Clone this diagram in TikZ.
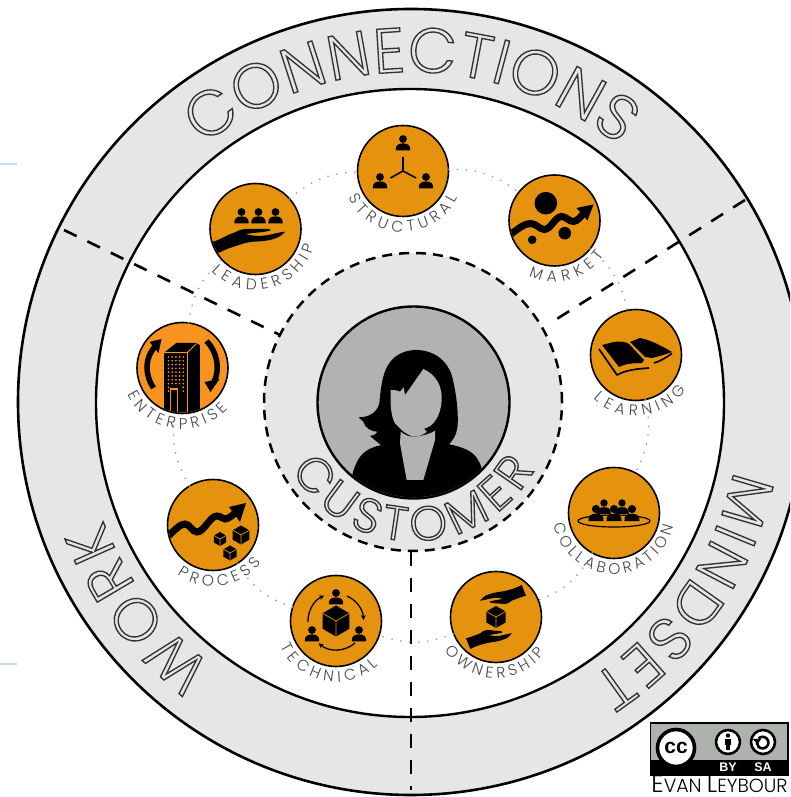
\documentclass[tikz,border=0pt]{standalone}
\usepackage{fontspec}
\usetikzlibrary{decorations.text,arrows.meta}
\newfontfamily\thinface{Poppins Light}
\newfontfamily\badgeface{Liberation Sans}
\definecolor{ringgrey}{HTML}{E6E6E6}
\definecolor{facegrey}{HTML}{B2B2B2}
\definecolor{iconorange}{HTML}{E5930F}
\definecolor{brightorange}{HTML}{F7931E}
\definecolor{labelgrey}{HTML}{4A4A4A}
\definecolor{dotgrey}{HTML}{A0A0A0}
\definecolor{edgeblue}{HTML}{C9DAF1}
\definecolor{badgegrey}{HTML}{ADB3AC}
\tikzset{
  disc/.style={circle,inner sep=0pt,outer sep=0pt},
  iconcircle/.style={disc,draw=black,line width=1.6pt,fill=iconorange,minimum size=91pt},
  zoneline/.style={draw=black,line width=2.6pt,dash pattern=on 14pt off 12pt},
  dotline/.style={draw=dotgrey,line width=1.9pt,line cap=round,dash pattern=on 0pt off 9pt},
  personfig/.pic={
    \fill (0,0) circle[radius=3.9];
    \fill (-7.2,-11.5) .. controls (-7.8,-6) and (-4,-4.4) .. (0,-4.4) .. controls (4,-4.4) and (7.8,-6) .. (7.2,-11.5) -- cycle;
  },
  boxfig/.pic={
    \fill (0,1) -- (.87,.5) -- (.87,-.5) -- (0,-1) -- (-.87,-.5) -- (-.87,.5) -- cycle;
    \draw[iconorange,line width=.7pt] (-.87,.5) -- (0,0) -- (.87,.5) (0,0) -- (0,-1);
  },
  handfig/.pic={
    \fill (-44,-12) -- (-42,-12.7) .. controls (-32,-9) and (-27,-5) .. (-20.3,-3.3)
      .. controls (-16,-1) and (-14,0) .. (-10.3,0) -- (13,0)
      .. controls (15,0) and (15.5,-1.2) .. (14.7,-1.7) .. controls (9,-3) and (3,-3.5) .. (-2,-4)
      -- (-10.3,-5) .. controls (-3,-7) and (3,-7) .. (8,-6.7)
      .. controls (15,-6) and (24,-3) .. (29.7,-2.7)
      .. controls (27,-6) and (23,-8.5) .. (18,-10)
      .. controls (12,-12) and (4,-12.5) .. (-2,-12.7)
      .. controls (-8,-13) and (-14,-15) .. (-18.7,-16.7)
      .. controls (-25,-19) and (-30,-20) .. (-35.3,-23.3) -- (-44,-25) -- cycle;
  },
  givinghand/.pic={
    \fill (-30,-21.3) .. controls (-25,-20) and (-20,-18) .. (-15.7,-16.3)
      .. controls (-13,-14) and (-11,-13) .. (-9,-13) -- (4.3,-14)
      .. controls (6,-14) and (6.5,-15) .. (6,-15.7) .. controls (2,-16.5) and (-3,-17.5) .. (-7.3,-18)
      .. controls (-4,-19.5) and (0,-19.2) .. (2.7,-19)
      .. controls (7,-18.5) and (12,-16.5) .. (16,-16.3)
      .. controls (13,-20) and (10,-22) .. (6,-23)
      .. controls (2,-24.5) and (-3,-25) .. (-7.3,-25.7)
      .. controls (-14,-27) and (-20,-29) .. (-25.7,-32) -- cycle;
  }
}
% centre, radius, start, end, size, word
\newcommand{\ringword}[6]{%
  \path[decorate,decoration={text along path,text align=fit to path,
    text={|\thinface\fontsize{#5}{#5}\selectfont\color{ringgrey}\special{pdf:code 2 Tr 1.35 w 0.2 0.2 0.2 RG}|#6}}]
    (#1) ++(#3:#2) arc[start angle=#3,end angle=#4,radius=#2];
}
\newcommand{\iconword}[4]{%
  \path[decorate,decoration={text along path,text align=fit to path,
    text={|\thinface\fontsize{15.5}{15.5}\selectfont\color{labelgrey}|#4}}]
    (#1.center) ++(#2:61) arc[start angle=#2,end angle=#3,radius=61];
}
\begin{document}
\begin{tikzpicture}[x=1pt,y=1pt]
\useasboundingbox (0,0) rectangle (790,797);
\clip (0,0) rectangle (790,797);
\fill[white] (0,0) rectangle (790,797);
% faint marks at the left edge
\fill[edgeblue] (0,632.3) rectangle (17,634);
\fill[edgeblue] (0,132.3) rectangle (17,134);
% rings
\node[disc,draw=black,line width=2.6pt,fill=ringgrey,minimum size=786pt] (ring) at (411,395) {};
\node[disc,draw=black,line width=2.4pt,fill=white,minimum size=628pt] (field) at (410,394) {};
% zone boundaries
\coordinate (zoneA) at (64,567);
\coordinate (zoneB) at (280,462);
\coordinate (zoneC) at (745,597);
\coordinate (zoneD) at (552,475);
\coordinate (zoneE) at (411,7);
\coordinate (zoneF) at (411,245);
\draw[zoneline] (zoneA) -- (zoneB);
\draw[zoneline] (zoneC) -- (zoneD);
\draw[zoneline] (zoneF) -- (zoneE);
% centre
\node[disc,fill=ringgrey,draw=black,line width=2.5pt,dash pattern=on 10pt off 7pt,minimum size=298pt] (core) at (413,395) {};
\node[disc,draw=black,line width=2.4pt,fill=facegrey,minimum size=192pt] (person) at (413.5,394.5) {};
\begin{scope}
\clip (person.center) circle[radius=94.8pt];
\begin{scope}[shift={(280,497)},x=.33333pt,y=-.33333pt]
\fill (305,435) .. controls (260,445) and (235,460) .. (218,520) -- (200,620) -- (620,620) -- (605,505)
  .. controls (590,455) and (560,445) .. (505,432) -- cycle;
\fill (400,150) .. controls (460,148) and (500,180) .. (515,225)
  .. controls (530,280) and (535,340) .. (533,375) .. controls (530,405) and (520,420) .. (505,435)
  -- (305,437) -- (270,408) .. controls (285,405) and (292,400) .. (292,395)
  .. controls (275,395) and (255,385) .. (250,365) .. controls (245,360) and (240,356) .. (235,352)
  .. controls (265,352) and (290,340) .. (298,310) .. controls (305,240) and (310,160) .. (400,150) -- cycle;
\fill[facegrey] (430,207) .. controls (410,235) and (390,265) .. (375,285) -- (371,262) -- (360,275)
  .. controls (350,270) and (340,270) .. (332,270) .. controls (330,310) and (333,350) .. (345,370)
  .. controls (360,385) and (370,400) .. (400,410) .. controls (420,410) and (435,402) .. (440,395)
  -- (432,386) .. controls (460,380) and (482,350) .. (485,300) .. controls (487,260) and (470,225) .. (430,207) -- cycle;
\fill[facegrey] (362,395) .. controls (375,405) and (385,410) .. (400,410) .. controls (420,410) and (450,402) .. (465,392)
  -- (465,420) -- (430,540) -- (380,540) -- (360,430) -- cycle;
\end{scope}
\end{scope}
% dotted ring and topic circles
\node[iconcircle] (structural) at (403,626) {};
\node[iconcircle] (market) at (554.5,576.5) {};
\node[iconcircle] (learning) at (636,442) {};
\node[iconcircle] (collaboration) at (614,284) {};
\node[iconcircle] (ownership) at (496,180) {};
\node[iconcircle] (technical) at (336,176) {};
\node[iconcircle] (process) at (213,272) {};
\node[iconcircle,fill=brightorange] (enterprise) at (182.5,429) {};
\node[iconcircle] (leadership) at (255.5,568) {};
\draw[dotline] (structural) to[bend left=20] (market);
\draw[dotline] (market) to[bend left=20] (learning);
\draw[dotline] (learning) to[bend left=20] (collaboration);
\draw[dotline] (collaboration) to[bend left=20] (ownership);
\draw[dotline] (ownership) to[bend left=20] (technical);
\draw[dotline] (technical) to[bend left=20] (process);
\draw[dotline] (process) to[bend left=20] (enterprise);
\draw[dotline] (enterprise) to[bend left=20] (leadership);
\draw[dotline] (leadership) to[bend left=20] (structural);
% structural
\begin{scope}[shift={(structural.center)}]
\pic at (0,32) {personfig};
\pic at (-23,-6) {personfig};
\pic at (23,-6) {personfig};
\draw[line width=1.6pt] (0,14) -- (0,0) (-12.5,-7) -- (0,0) -- (13,-7);
\end{scope}
% market
\begin{scope}[shift={(market.center)}]
\clip (0,0) circle[radius=44.5];
\fill (-8.7,17.3) circle[radius=11.3];
\fill (10.3,-12.7) circle[radius=6.3];
\fill (-22.3,-19.3) circle[radius=4.3];
\draw[line width=7pt] (-46,-15.5) .. controls (-36,-8) and (-30,-3) .. (-24,-3)
  .. controls (-18,-3) and (-15,-9) .. (-10,-9) .. controls (-4,-9) and (1,4) .. (7,4)
  .. controls (12,4) and (14,-1) .. (19,-1) .. controls (23,-1) and (27,5) .. (31,9);
\fill (39,16) -- (22,12.5) -- (33,0) -- cycle;
\end{scope}
% learning
\begin{scope}[shift={(learning.center)}]
\fill (-34,10) -- (-22,13) .. controls (-14,14) and (-10,13) .. (-7,11) -- (8,-5) -- (6,-8) .. controls (-3,-8) and (-12,-9) .. (-17,-12) -- cycle;
\fill (-6,13) -- (4,17) .. controls (14,15) and (24,10) .. (36,3) .. controls (28,0) and (20,-2) .. (16,-3) -- (9,-2) -- cycle;
\draw[line width=1.7pt,line join=round] (-37,6) -- (-19,-20) .. controls (-10,-15) and (0,-14) .. (13,-13);
\draw[line width=1.7pt] (18,-8) .. controls (25,-6) and (31,-2) .. (36,1.5);
\end{scope}
% collaboration
\begin{scope}[shift={(collaboration.center)}]
\draw[line width=1.2pt] (0,-8) ellipse[x radius=36,y radius=6];
\fill[iconorange] (-24,-8) rectangle (24,-3);
\pic[scale=.95] at (-10,10) {personfig};
\pic[scale=.95] at (8,10) {personfig};
\pic[scale=1.05] at (-18,4) {personfig};
\pic[scale=1.05] at (0,4) {personfig};
\pic[scale=1.05] at (18,4) {personfig};
\end{scope}
% ownership
\begin{scope}[shift={(ownership.center)}]
\pic at (0,0) {givinghand};
\pic[rotate=180] at (0,0) {givinghand};
\pic[scale=11] at (0,0) {boxfig};
\end{scope}
% technical
\begin{scope}[shift={(technical.center)}]
\pic[scale=15.5] at (0,0) {boxfig};
\pic at (0,28) {personfig};
\pic at (-24,-9) {personfig};
\pic at (23,-9) {personfig};
\draw[line width=1.3pt,-{Stealth[length=5pt,width=5pt]}] (-28,-1) arc[start angle=182,end angle=115,radius=28];
\draw[line width=1.3pt,-{Stealth[length=5pt,width=5pt]}] (11,25) arc[start angle=66,end angle=3,radius=28];
\draw[line width=1.3pt,-{Stealth[length=5pt,width=5pt]}] (19,-22) arc[start angle=-49,end angle=-130,radius=28];
\end{scope}
% process
\begin{scope}[shift={(process.center)}]
\clip (0,0) circle[radius=44.5];
\draw[line width=7pt] (-47,-13) .. controls (-38,-5) and (-33,1) .. (-28,1)
  .. controls (-23,1) and (-21,-7) .. (-16,-7) .. controls (-9,-7) and (-3,9) .. (4,9)
  .. controls (8,9) and (9,6) .. (12,6) .. controls (16,6) and (21,11) .. (25,15);
\fill (33,22) -- (16,18) -- (27,3) -- cycle;
\pic[scale=9.5] at (28,-10) {boxfig};
\pic[scale=7] at (7,-14) {boxfig};
\pic[scale=7.5] at (17,-28) {boxfig};
\end{scope}
% enterprise
\begin{scope}[shift={(enterprise.center)}]
\clip (0,0) circle[radius=44.5];
\fill (-18.3,15.3) -- (-6.3,25) -- (14,25) -- (17.3,22.7) -- (17.3,-46) -- (-18.3,-46) -- cycle;
\draw[brightorange,line width=.9pt] (-18.3,15.3) -- (4.7,15.3) -- (14,24.5);
\draw[brightorange,line width=1.1pt] (4.7,15.3) -- (4.7,-46);
\foreach \cx in {-14,-10.3,-6.6,-2.9,0.8}{
  \foreach \cy in {11,7.2,3.4,-0.4,-4.2,-8,-11.8,-15.6}{
    \fill[brightorange] (\cx,\cy) circle[radius=.95];
  }
}
\foreach \cy in {-19.4,-23.2}{
  \fill[brightorange] (-14,\cy) circle[radius=.95];
  \fill[brightorange] (0.8,\cy) circle[radius=.95];
}
\draw[brightorange,line width=1.1pt] (-11.8,-46) -- (-11.8,-21) -- (-5,-21) -- (-5,-46);
\draw[line width=5.5pt] (-29,-20) .. controls (-38,-6) and (-38,10) .. (-27,22);
\fill (-21,29) -- (-33,26) -- (-24,15) -- cycle;
\draw[line width=5.5pt] (24,27) .. controls (35,16) and (38,-2) .. (31,-15);
\fill (28,-24) -- (22,-14) -- (37,-11) -- cycle;
\end{scope}
% leadership
\begin{scope}[shift={(leadership.center)}]
\clip (0,0) circle[radius=44.5];
\pic at (-14,17) {personfig};
\pic at (3,17) {personfig};
\pic at (20,17) {personfig};
\pic at (0,0) {handfig};
\end{scope}
% circle labels
\iconword{structural}{206}{334}{STRUCTURAL}
\iconword{market}{245}{325}{MARKET}
\iconword{learning}{226}{325}{LEARNING}
\iconword{collaboration}{191}{347}{COLLABORATION}
\iconword{ownership}{213}{324}{OWNERSHIP}
\iconword{technical}{205}{314}{TECHNICAL}
\iconword{process}{234}{322}{PROCESS}
\iconword{enterprise}{206}{318}{ENTERPRISE}
\iconword{leadership}{224}{344}{LEADERSHIP}
% large words
\ringword{ring.center}{330}{129}{51}{63}{CONNECTIONS}
\ringword{ring.center}{330}{233}{201}{60}{WORK}
\ringword{ring.center}{330}{-12}{-57}{60}{MINDSET}
\ringword{core.center}{139}{209}{331}{48}{CUSTOMER}
% licence badge
\fill[badgegrey,draw=black,line width=1.6pt] (650.5,74) rectangle (788,22);
\fill (650.5,37) rectangle (788,22);
\node[disc,fill=white,draw=black,line width=3.6pt,minimum size=37pt,font=\badgeface\bfseries\fontsize{21}{21}\selectfont] (cc) at (676,49) {cc};
\node[disc,fill=white,draw=black,line width=2.6pt,minimum size=24pt] (by) at (728,55) {};
\node[disc,fill=white,draw=black,line width=2.6pt,minimum size=24pt] (sa) at (763,55) {};
\fill (728,61.5) circle[radius=2.2];
\fill (724.6,58.3) rectangle (731.4,52);
\fill (726,52) rectangle (730,46.5);
\draw[line width=2.6pt] (758.5,58.5) arc[start angle=135,end angle=-180,radius=5.8];
\fill (753,58) -- (761,58) -- (757.5,52.5) -- cycle;
\node[inner sep=0pt,text=white,font=\badgeface\bfseries\fontsize{12.5}{12.5}\selectfont] (bylabel) at (728,29.5) {BY};
\node[inner sep=0pt,text=white,font=\badgeface\bfseries\fontsize{12.5}{12.5}\selectfont] (salabel) at (763,29.5) {SA};
\node[inner sep=0pt,anchor=base,text=black,font=\thinface] (author) at (719.5,5) {\fontsize{24.5}{24.5}\selectfont E\fontsize{19}{19}\selectfont VAN \fontsize{24.5}{24.5}\selectfont L\fontsize{19}{19}\selectfont EYBOUR};
\end{tikzpicture}
\end{document}
